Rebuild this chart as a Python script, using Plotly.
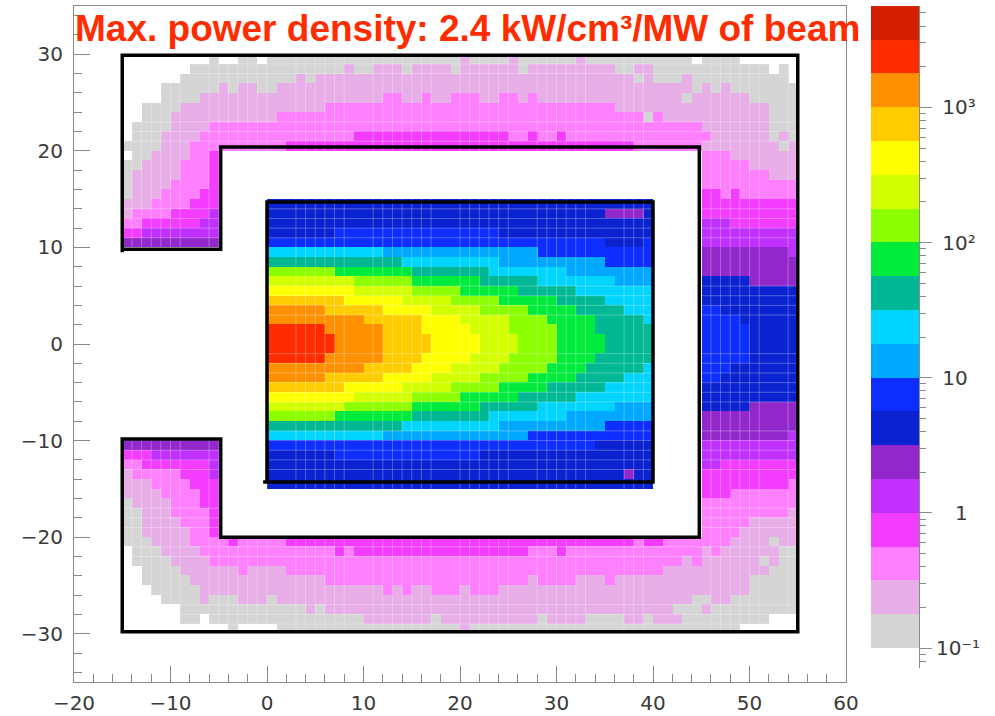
import plotly.graph_objects as go

W, H = 995, 716
# Level names, lowest to highest
LEVELS = "abcdefghijklmnopqrs"
COLORS = ["#D5D5D5", "#E8AEE8", "#FF80FF", "#F23CFF", "#C030FF", "#9228CC", "#0A22D0",
          "#0D2EFF", "#00A8FF", "#00D4FF", "#00B894", "#00EB3C", "#8CFF00", "#D4FF00",
          "#FFFF00", "#FFCC00", "#FF9000", "#FF2C00", "#D42000"]
LEVEL_EDGES = [0.1, 0.178, 0.316, 0.562, 1, 1.78, 3.16, 5.62, 10, 17.8, 31.6, 56.2, 100,
               178, 316, 562, 1000, 1780, 3160, 5620]
BAR_TICKS = [0.1, 1, 10, 100, 1000]
BAR_LABELS = ["10\u207b\u00b9", "\u00a0\u00a0\u00a01", "\u00a010", "\u00a010\u00b2", "\u00a010\u00b3"]

# Cell rows from y=29.5 down to y=-29.5; each token = level + exclusive end column
ROWS = [
 ".9 a10 .12 a14 .15 a35 b36 a40 b41 a47 b48 a59 .60 a64 .70",
 ".7 a23 b24 a26 b29 a30 b34 a35 b41 a42 b51 a53 b55 a67 .68 a69 .70",
 ".6 a18 b19 a20 b53 a54 b55 a58 b59 a69 .70",
 ".4 a10 b11 a12 b14 a16 b59 a60 b61 a62 b63 a70",
 ".4 a8 b27 c29 b31 c32 b34 c37 b39 c41 b42 c43 b58 a59 b65 a70",
 ".2 a6 b21 c51 b67 a70",
 ".2 a5 b16 c54 a55 c56 b67 a70",
 ".1 a5 b9 c60 b67 a70",
 ".1 a4 b8 c24 d40 c42 d43 c45 d46 c61 b67 a68 b69 a70",
 "a4 b7 c17 d53 c60 b68 a69 b70",
 ".1 a3 b7 c9 d10 .60 c63 b70",
 "a2 b6 c9 d10 .60 c65 b70",
 "a1 b6 c9 d10 .60 c67 b70",
 "a1 b5 c9 d10 .60 c70",
 "a1 b4 c8 d10 .60 d62 c63 d64 c70",
 "b3 c7 d10 .15 g55 .60 d70",
 "b1 c5 d9 e10 .15 g50 f54 g55 .60 d70",
 "c2 d8 e10 .15 g55 .60 e63 d70",
 "d2 e10 .15 g22 h39 g55 .60 e70",
 "f10 .15 h50 g54 h55 .60 e70",
 ".15 j27 i43 h55 .60 f69 e70",
 ".15 k29 j39 i50 h55 .60 f70",
 ".15 m22 l30 k38 j46 i55 .60 f70",
 ".15 n24 m30 l37 k43 j51 i55 .60 g65 f70",
 ".15 o24 n30 m35 l41 k47 j55 .60 g70",
 ".15 p23 o29 n34 m39 l45 k50 j55 .60 g70",
 ".15 q21 p27 o32 n37 m42 l47 k52 j55 .60 h62 g70",
 ".15 q25 p31 o35 n40 m44 l49 k54 j55 .60 h64 g70",
 ".15 r21 q27 p31 o36 n40 m45 l49 k55 .60 h65 g70",
 ".15 r22 q27 p32 o37 n41 m45 l50 k55 .60 h65 g70",
 ".15 r22 q27 p32 o37 n41 m45 l50 k55 .60 h65 g70",
 ".15 r21 q27 p31 o36 n40 m45 l49 k55 .60 h65 g70",
 ".15 q25 p30 o34 n39 m44 l48 k54 j55 .60 h63 g70",
 ".15 q21 p27 o32 n37 m42 l47 k52 j55 .60 h62 g70",
 ".15 p23 o29 n34 m39 l44 k50 j55 .60 g70",
 ".15 o24 n30 m35 l41 k47 j55 .60 g70",
 ".15 n23 m30 l37 k43 j51 i55 .60 g65 f70",
 ".15 m22 l30 k38 j46 i55 .60 f70",
 ".15 k29 j39 i50 h55 .60 f70",
 ".15 j27 i42 h55 .60 f69 e70",
 "f10 .15 h49 g55 .60 e70",
 "d3 e10 .15 g22 h37 g55 .60 e70",
 "c2 d9 e10 .15 g55 .60 e62 d70",
 "b1 c6 d9 e10 .15 g52 f53 g55 .60 d70",
 "b3 c7 d10 .15 g55 .60 d69 c70",
 "b4 c8 d10 .60 d63 c70",
 "a1 b5 c8 d10 .60 c70",
 "a2 b5 c9 d10 .60 c69 b70",
 "a2 b6 c9 d10 .60 c65 b70",
 "a2 b7 c9 d10 .60 c64 b70",
 "a3 b7 c11 d12 c17 d53 c54 d56 c63 b67 a68 b70",
 ".1 a4 b8 c22 d23 c24 d42 c45 d46 c60 b61 c62 b68 a70",
 ".1 a5 b9 c58 b59 c60 b66 a67 b68 a70",
 ".2 a6 b12 c13 b17 c56 b67 a70",
 ".2 a7 b21 c42 b43 c47 b50 c51 b65 a70",
 ".3 a8 b27 c28 b29 c30 b32 c35 b36 c39 b65 a70",
 ".4 a8 b9 a12 b15 a16 b59 a61 b63 a70",
 ".6 a19 b20 a21 b57 a60 b61 a70",
 ".6 a8 .9 a25 b32 a33 b43 a44 b48 a52 b54 a55 b58 a67 .70",
 ".11 a12 .16 a35 b36 a64 .70",
]
CELL_X = list(range(-15, 56))      # cell edges
CELL_Y = list(range(30, -31, -1))  # cell edges

# Faint seams between some cells in the picture
SEAM_X = [-14, -13, -12, -11, -10, -9, -6, -5, -4, -3, -2, -1, 0, 3, 4, 5, 6, 7, 8,
          11, 12, 13, 14, 15, 16, 17, 20, 21, 22, 23, 24, 25, 28, 29, 30, 31, 32, 33,
          37, 38, 39, 46, 47, 48, 49, 50, 51, 54]
SEAM_Y = [29, 28, 23, 22, 21, 14, 13, 12, 11, 6, 5, 4, 3, -1, -2, -3, -4, -5, -6,
          -9, -10, -11, -12, -13, -17, -18, -19, -21, -22, -27, -28, -29]

WALL_X = [-15, -15, 55, 55, -15, -15, -4.8, -4.8, 44.8, 44.8, -4.8, -4.8, -15]
WALL_Y = [9.5, 29.9, 29.9, -29.8, -29.8, -9.85, -9.85, -20, -20, 20.4, 20.4, 9.8, 9.8]
BOX_X = [0, 0, 40, 40, -0.4]
BOX_Y = [-14.3, 14.7, 14.7, -14.3, -14.3]

TITLE = "<b>Max. power density: 2.4 kW/cm\u00b3/MW of beam</b>"


def decode(row):
    cells, start = [], 0
    for tok in row.split():
        end = int(tok[1:])
        val = None if tok[0] == "." else LEVELS.index(tok[0])
        cells += [val] * (end - start)
        start = end
    return cells


n = len(COLORS)
scale = []
for i, c in enumerate(COLORS):
    scale += [[i / n, c], [(i + 1) / n, c]]

AXIS_COLOR = "#8A8A8A"
TICK_FONT = dict(family="DejaVu Sans, sans-serif", size=20, color="#3A3A3A")

seam_x, seam_y = [], []
for v in SEAM_X:
    seam_x += [v, v, None]
    seam_y += [CELL_Y[0], CELL_Y[-1], None]
for v in SEAM_Y:
    seam_x += [CELL_X[0], CELL_X[-1], None]
    seam_y += [v, v, None]

fig = go.Figure()
fig.add_trace(go.Heatmap(x=CELL_X, y=CELL_Y, z=[decode(r) for r in ROWS],
                         colorscale=scale, zmin=-0.5, zmax=n - 0.5, showscale=False,
                         zsmooth=False, hoverongaps=False))
fig.add_trace(go.Scatter(x=seam_x, y=seam_y, mode="lines", hoverinfo="skip",
                         line=dict(color="rgba(255,255,255,0.28)", width=1), showlegend=False))
fig.add_trace(go.Scatter(x=WALL_X, y=WALL_Y, mode="lines",
                         line=dict(color="black", width=3.5), showlegend=False))
fig.add_trace(go.Scatter(x=BOX_X, y=BOX_Y, mode="lines",
                         line=dict(color="black", width=3.5), showlegend=False))
fig.add_trace(go.Heatmap(x=[0, 1], y=LEVEL_EDGES, z=[[i] for i in range(n)],
                         colorscale=scale, zmin=-0.5, zmax=n - 0.5, showscale=False,
                         xaxis="x2", yaxis="y2"))

fig.update_layout(
    template="none",
    width=W, height=H, margin=dict(l=0, r=0, t=0, b=0), autosize=False,
    paper_bgcolor="white", plot_bgcolor="white", showlegend=False,
    xaxis=dict(domain=[74 / W, 846 / W], range=[-20, 60], dtick=10, ticks="inside", ticklen=16,
               tickcolor=AXIS_COLOR, linecolor=AXIS_COLOR, linewidth=1, mirror=True, automargin=False,
               showgrid=False, zeroline=False, tickfont=TICK_FONT, ticklabelstandoff=3,
               minor=dict(dtick=2, ticks="inside", ticklen=8, tickcolor=AXIS_COLOR, showgrid=False)),
    yaxis=dict(domain=[1 - 682 / H, 1 - 6 / H], range=[-35, 35], dtick=10, ticks="inside", ticklen=16,
               tickcolor=AXIS_COLOR, linecolor=AXIS_COLOR, linewidth=1, mirror=True, automargin=False,
               showgrid=False, zeroline=False, tickfont=TICK_FONT, ticklabelstandoff=6,
               minor=dict(dtick=2, ticks="inside", ticklen=8, tickcolor=AXIS_COLOR, showgrid=False)),
    xaxis2=dict(domain=[871 / W, 919 / W], range=[0, 1], anchor="y2", visible=False, fixedrange=True),
    yaxis2=dict(domain=[1 - 668 / H, 1 - 6 / H], type="log", range=[-1.148, 3.75], anchor="x2",
                side="right", tickmode="array", tickvals=BAR_TICKS, ticktext=BAR_LABELS,
                ticks="outside", ticklen=12, automargin=False,
                tickcolor=AXIS_COLOR, linecolor=AXIS_COLOR, linewidth=1, showline=True,
                showgrid=False, zeroline=False, tickfont=TICK_FONT,
                minor=dict(dtick="D1", ticks="outside", ticklen=6, tickcolor=AXIS_COLOR, showgrid=False)),
    annotations=[dict(text=TITLE, xref="paper", yref="paper", x=467 / W, y=1 - 28 / H,
                      xanchor="center", yanchor="middle", showarrow=False,
                      font=dict(family="Liberation Sans, Arial, sans-serif", size=37, color="#FF2C00"))],
)
fig.write_html("out.html", config={"displayModeBar": False},
               post_script="document.body.style.margin='0';")
